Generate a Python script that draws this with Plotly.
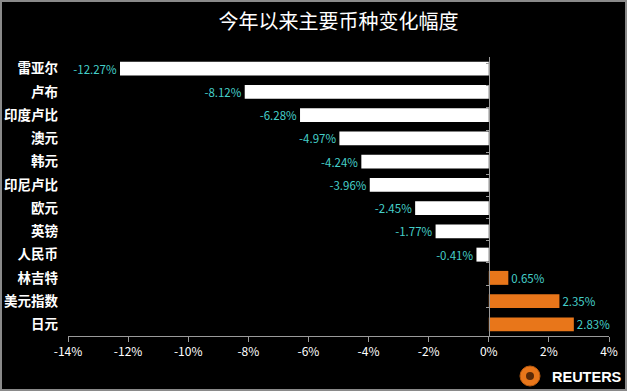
import plotly.graph_objects as go

categories = ["雷亚尔", "卢布", "印度卢比", "澳元", "韩元", "印尼卢比", "欧元", "英镑", "人民币", "林吉特", "美元指数", "日元"]
values = [-12.27, -8.12, -6.28, -4.97, -4.24, -3.96, -2.45, -1.77, -0.41, 0.65, 2.35, 2.83]
x_ticks = [-14, -12, -10, -8, -6, -4, -2, 0, 2, 4]
x_tick_labels = [f"{t}%" for t in x_ticks]
title_text = "今年以来主要币种变化幅度"

W, H = 627, 391
ML, MR, MT, MB = 68, 18, 57, 55
xmin, xmax = -14, 4

bar_colors = ["#ffffff" if v < 0 else "#e8761a" for v in values]
labels = [f"{v:.2f}%" for v in values]

fig = go.Figure()
fig.add_trace(go.Bar(
    y=categories, x=values, orientation="h",
    marker=dict(color=bar_colors, line=dict(width=0)),
    text=labels, textposition="outside", cliponaxis=False, constraintext="none",
    textfont=dict(color="#45cfc9", size=11.5, family="Noto Sans CJK SC"),
    hoverinfo="skip",
))
# dummy trace on secondary y-axis for tick marks at zero
fig.add_trace(go.Scatter(y=categories, x=[0]*len(categories), yaxis="y2",
                         mode="markers", marker=dict(opacity=0), hoverinfo="skip",
                         showlegend=False))

fig.update_layout(
    width=W, height=H,
    paper_bgcolor="#000000", plot_bgcolor="#000000",
    margin=dict(l=ML, r=MR, t=MT, b=MB),
    showlegend=False,
    bargap=0.4,
    title=dict(text=title_text, x=0.5, xref="paper", xanchor="center", y=1 - 22/H, yref="container",
               yanchor="middle", font=dict(color="#ffffff", size=20, family="Noto Sans CJK SC")),
    xaxis=dict(range=[xmin, xmax], tickvals=x_ticks, ticktext=x_tick_labels, automargin=False,
               showgrid=False, zeroline=False, showline=True, linecolor="#9a9a9a", linewidth=1,
               ticks="outside", tickcolor="#9a9a9a", ticklen=5,
               tickfont=dict(color="#ffffff", size=12, family="Noto Sans CJK SC")),
    yaxis=dict(categoryorder="array", categoryarray=categories, autorange="reversed", automargin=False,
               showgrid=False, zeroline=False, showline=False, ticks="", ticklabelstandoff=9,
               tickfont=dict(color="#ffffff", size=13.5, family="Noto Sans CJK SC", weight="bold")),
    yaxis2=dict(categoryorder="array", categoryarray=categories, autorange="reversed", automargin=False,
                overlaying="y", anchor="free", position=(0 - xmin) / (xmax - xmin),
                showticklabels=False, showgrid=False, zeroline=False,
                showline=True, linecolor="#9a9a9a", linewidth=1,
                ticks="outside", tickson="boundaries", ticklen=3, tickcolor="#9a9a9a"),
)

pw = W - ML - MR
ph = H - MT - MB
px = lambda p: (p - ML) / pw          # pixel x -> paper x
py = lambda p: (H - MB - p) / ph      # pixel y -> paper y

# outer border
fig.add_shape(type="rect", xref="paper", yref="paper",
              x0=px(1), x1=px(W - 1), y0=py(H - 1), y1=py(1),
              line=dict(color="#8a8a8a", width=2), layer="above")

# Reuters logo
fig.add_shape(type="circle", xref="paper", yref="paper",
              x0=px(520), x1=px(540), y0=py(386), y1=py(366),
              fillcolor="#e8761a", line=dict(color="#b85a10", width=1), layer="above")
fig.add_shape(type="circle", xref="paper", yref="paper",
              x0=px(526), x1=px(534), y0=py(380), y1=py(372),
              fillcolor="#5a2a08", line=dict(width=0), layer="above")
fig.add_annotation(text="REUTERS", xref="paper", yref="paper",
                   x=px(550), y=py(377),
                   xanchor="left", yanchor="middle", showarrow=False,
                   font=dict(color="#ffffff", size=14.5, family="Liberation Sans", weight="bold"))

fig.write_html("out.html", config={"displayModeBar": False},
               post_script="document.body.style.margin='0';document.body.style.background='#000';")
